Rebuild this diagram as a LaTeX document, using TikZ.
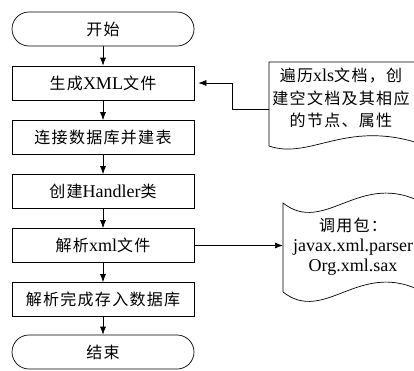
\documentclass[tikz,border=0pt]{standalone}
\usepackage{fontspec}
\setmainfont{Liberation Serif}
\newfontfamily\cjk[Scale=0.89,LetterSpace=8]{Noto Sans CJK SC}
\newcommand{\zh}[1]{{\cjk #1}}
\usetikzlibrary{arrows.meta}
\begin{document}
\begin{tikzpicture}[x=1pt, y=-1pt, line width=0.7pt,
  font=\fontsize{18}{22}\selectfont,
  stepbox/.style={draw, minimum width=182pt, minimum height=34pt, inner sep=0pt},
  ends/.style={stepbox, rounded corners=17pt},
  flow/.style={-{Latex[length=8pt,width=6pt]}}]
\clip (0,0) rectangle (414,370);
% main column
\node[ends] (start) at (103,29) {\zh{开始}};
\node[stepbox] (gen) at (103,83) {\zh{生成}XML\zh{文件}};
\node[stepbox] (conn) at (103,137.5) {\zh{连接数据库并建表}};
\node[stepbox] (handler) at (103,191.5) {\zh{创建}Handler\zh{类}};
\node[stepbox] (parse) at (103,245.5) {\zh{解析}xml\zh{文件}};
\node[stepbox] (store) at (103,299.5) {\zh{解析完成存入数据库}};
\node[ends] (stop) at (103,352) {\zh{结束}};
\draw[flow] (start) -- (gen);
\draw[flow] (gen) -- (conn);
\draw[flow] (conn) -- (handler);
\draw[flow] (handler) -- (parse);
\draw[flow] (parse) -- (store);
\draw[flow] (store) -- (stop);
% note on the xls scan
\draw (418,62) -- (269,62) -- (269,146) .. controls (310,160) and (345,120) .. (418,143);
\node[align=center, font=\fontsize{18}{22.5}\selectfont] (scan) at (341,98)
  {\zh{遍历}xls\zh{文档，创}\\\zh{建空文档及其相应}\\\zh{的节点、属性}};
\coordinate (scanin) at (269,109);
\draw[flow, shorten >=4pt] (scanin) -| ([xshift=38pt]gen.east) -- (gen.east);
% note on the parser packages
\draw (283,292) .. controls (325,325) and (360,258) .. (423,292) -- (423,203)
  .. controls (360,169) and (325,236) .. (283,203) -- cycle;
\node[align=center, font=\fontsize{18}{20}\selectfont] (api) at (353,247)
  {\zh{调用包：}\\javax.xml.parser\\Org.xml.sax};
\coordinate (apiin) at (283,245.5);
\draw[flow] (parse.east) -- (apiin);
\end{tikzpicture}
\end{document}
